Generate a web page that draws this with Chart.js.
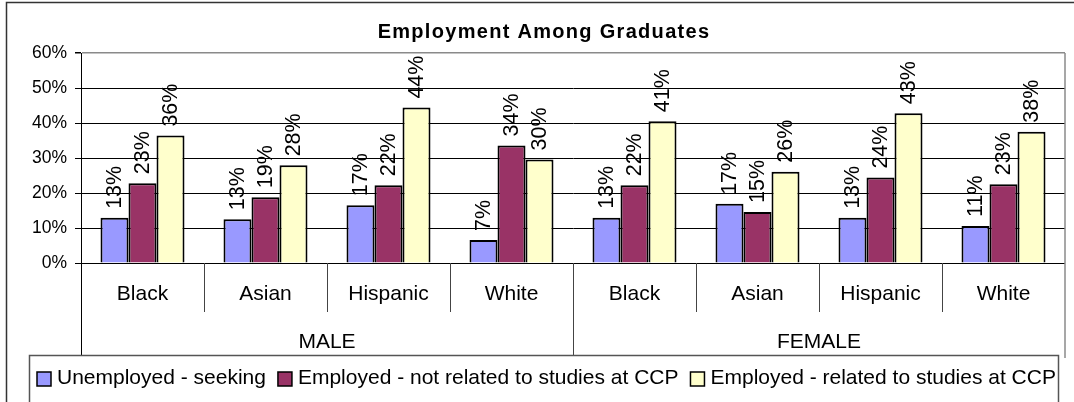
<!DOCTYPE html>
<html>
<head>
<meta charset="utf-8">
<title>Employment Among Graduates</title>
<script src="https://cdn.jsdelivr.net/npm/chart.js@4.4.1/dist/chart.umd.min.js"></script>
<style>
  html, body { margin: 0; padding: 0; background: #fff; }
  #wrap { width: 1074px; height: 402px; }
</style>
</head>
<body>
<div id="wrap"><canvas id="chart-emp" width="1074" height="402"></canvas></div>
<script>
const groups = ['MALE', 'FEMALE'];
const races = ['Black', 'Asian', 'Hispanic', 'White'];
const seriesNames = ['Unemployed - seeking', 'Employed - not related to studies at CCP', 'Employed - related to studies at CCP'];
const unemployedSeeking = [12.9, 12.5, 16.5, 6.6, 12.9, 16.9, 12.9, 10.6];
const employedNotRelated = [22.8, 18.8, 22.2, 33.6, 22.2, 14.6, 24.4, 22.5];
const employedRelated = [36.4, 27.9, 44.4, 29.6, 40.5, 26.1, 42.8, 37.5];
const yTicks = [0, 10, 20, 30, 40, 50, 60];

const FONT = "'Liberation Sans', Arial, sans-serif";
const colors = ['#9999FF', '#993366', '#FFFFCC'];

// one label per bar group: race within sex
const categories = groups.flatMap(g => races.map(r => g + ' ' + r));

const extras = {
    id: 'extras',
    afterDraw(chart) {
        const ctx = chart.ctx;
        const area = chart.chartArea;
        const x = chart.scales.x;
        const n = categories.length;
        const catW = (x.right - x.left) / n;
        ctx.save();

        // data labels, rotated
        ctx.font = '21.5px ' + FONT;
        ctx.fillStyle = '#000';
        ctx.textAlign = 'left';
        ctx.textBaseline = 'middle';
        chart.data.datasets.forEach((ds, di) => {
            chart.getDatasetMeta(di).data.forEach((bar, i) => {
                ctx.save();
                ctx.translate(bar.x, bar.y - 9);
                ctx.rotate(-Math.PI / 2);
                ctx.fillText(Math.round(ds.data[i]) + '%', 0, 1);
                ctx.restore();
            });
        });

        // outer frame
        ctx.strokeStyle = '#333';
        ctx.lineWidth = 1.5;
        ctx.beginPath();
        ctx.moveTo(6.5, 402);
        ctx.lineTo(6.5, 2.5);
        ctx.lineTo(1074, 2.5);
        ctx.stroke();

        // title
        ctx.font = 'bold 20px ' + FONT;
        ctx.letterSpacing = '1.3px';
        ctx.textAlign = 'center';
        ctx.textBaseline = 'middle';
        ctx.fillText('Employment Among Graduates', 544, 32);
        ctx.letterSpacing = '0px';

        // plot right border
        ctx.strokeStyle = '#8a8a8a';
        ctx.lineWidth = 1.5;
        ctx.beginPath();
        ctx.moveTo(area.right, area.top);
        ctx.lineTo(area.right, 358);
        ctx.stroke();

        // category dividers under the axis
        ctx.lineWidth = 1;
        for (let i = 0; i < n; i++) {
            const px = Math.round(x.left + i * catW) + 0.5;
            const long = i % races.length === 0;
            ctx.strokeStyle = i === 0 ? '#000' : '#444';
            ctx.beginPath();
            ctx.moveTo(px, area.bottom);
            ctx.lineTo(px, long ? 355 : 312);
            ctx.stroke();
        }

        // race and sex labels
        ctx.font = '21px ' + FONT;
        ctx.fillStyle = '#000';
        categories.forEach((c, i) => {
            ctx.fillText(races[i % races.length], x.getPixelForValue(i), 294);
        });
        groups.forEach((g, gi) => {
            const cx = x.left + (gi + 0.5) * races.length * catW;
            ctx.fillText(g, cx, 342);
        });

        // legend box
        ctx.strokeStyle = '#555';
        ctx.lineWidth = 1.5;
        ctx.strokeRect(29.5, 355.5, 1029, 60);
        ctx.font = '21px ' + FONT;
        ctx.textAlign = 'left';
        ctx.textBaseline = 'middle';
        let lx = 37;
        seriesNames.forEach((name, i) => {
            ctx.fillStyle = colors[i];
            ctx.fillRect(lx, 372, 14, 14);
            ctx.strokeStyle = '#000';
            ctx.lineWidth = 1.5;
            ctx.strokeRect(lx, 372, 14, 14);
            ctx.fillStyle = '#000';
            const tx = lx + 20;
            ctx.fillText(name, tx, 378);
            lx = tx + ctx.measureText(name).width + 12;
        });
        ctx.restore();
    }
};

new Chart(document.getElementById('chart-emp').getContext('2d'), {
    type: 'bar',
    data: {
        labels: categories,
        datasets: [
            { label: seriesNames[0], data: unemployedSeeking, backgroundColor: colors[0] },
            { label: seriesNames[1], data: employedNotRelated, backgroundColor: colors[1] },
            { label: seriesNames[2], data: employedRelated, backgroundColor: colors[2] }
        ].map(d => Object.assign(d, {
            borderColor: '#000',
            borderWidth: 2,
            categoryPercentage: 0.683,
            barPercentage: 1.0
        }))
    },
    options: {
        responsive: false,
        animation: false,
        devicePixelRatio: 1,
        layout: { padding: { top: 53, right: 9, bottom: 139, left: 0 } },
        plugins: {
            legend: { display: false },
            title: { display: false },
            tooltip: { enabled: false }
        },
        scales: {
            x: { display: false },
            y: {
                min: 0,
                max: 60,
                afterFit(scale) { scale.width = 81; },
                afterBuildTicks(scale) { scale.ticks = yTicks.map(v => ({ value: v })); },
                ticks: {
                    color: '#000',
                    padding: 8,
                    font: { family: FONT, size: 17.5 },
                    callback: v => v + '%'
                },
                grid: {
                    color: c => c.tick && c.tick.value === 60 ? '#8a8a8a' : '#000',
                    lineWidth: c => c.tick && c.tick.value === 60 ? 1.5 : 1,
                    tickLength: 6,
                    tickColor: '#000'
                },
                border: { color: '#000', width: 1 }
            }
        }
    },
    plugins: [extras]
});
</script>
</body>
</html>
